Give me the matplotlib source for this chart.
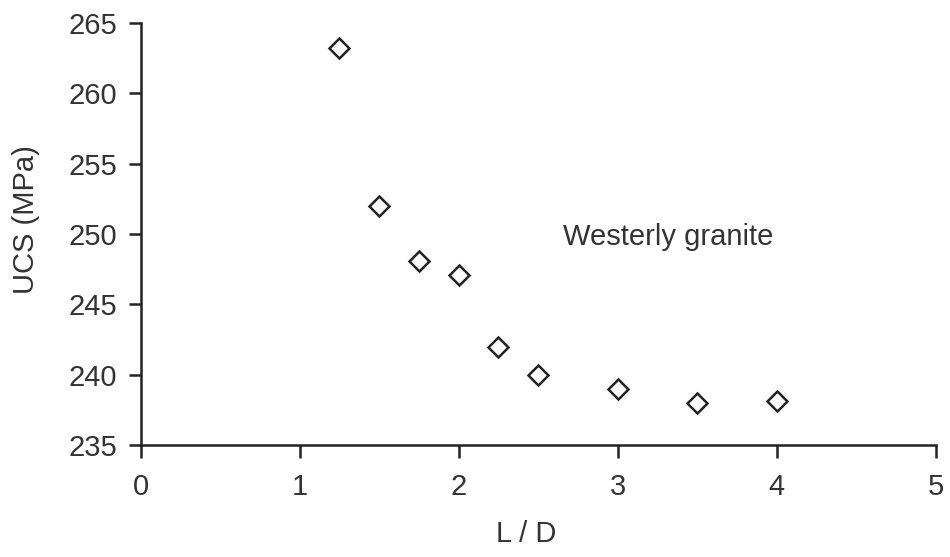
import matplotlib
matplotlib.use("Agg")
import matplotlib.pyplot as plt

ld = [1.25, 1.5, 1.75, 2.0, 2.25, 2.5, 3.0, 3.5, 4.0]
ucs = [263.2, 252.0, 248.1, 247.1, 242.0, 240.0, 239.0, 238.0, 238.1]
xticks = [0, 1, 2, 3, 4, 5]
yticks = [235, 240, 245, 250, 255, 260, 265]

plt.rcParams['font.family'] = ['Liberation Sans', 'DejaVu Sans']

fig = plt.figure(figsize=(9.5, 5.57), dpi=100)
ax = fig.add_axes([0.148, 0.201, 0.837, 0.758])
ax.plot(ld, ucs, linestyle='none', marker='D', markersize=10,
        markerfacecolor='white', markeredgecolor='#222222', markeredgewidth=1.8)
ax.set_xlim(0, 5)
ax.set_ylim(235, 265)
ax.set_xticks(xticks)
ax.set_yticks(yticks)
for s in ['top', 'right']:
    ax.spines[s].set_visible(False)
for s in ['left', 'bottom']:
    ax.spines[s].set_linewidth(1.8)
    ax.spines[s].set_color('#222222')
ax.tick_params(direction='out', length=9, width=1.8, color='#222222',
               labelsize=21, labelcolor='#333333')
ax.tick_params(axis='y', pad=8)
ax.tick_params(axis='x', pad=11)
ax.set_xlabel('L / D', fontsize=21, color='#333333')
ax.set_ylabel('UCS (MPa)', fontsize=21, color='#333333')
ax.xaxis.set_label_coords(0.4855, -0.178)
ax.yaxis.set_label_coords(-0.127, 0.535)
ax.text(2.654, 249.2, 'Westerly granite', fontsize=21, color='#333333',
        va='baseline', ha='left')
fig.savefig('out.png', dpi=100)
